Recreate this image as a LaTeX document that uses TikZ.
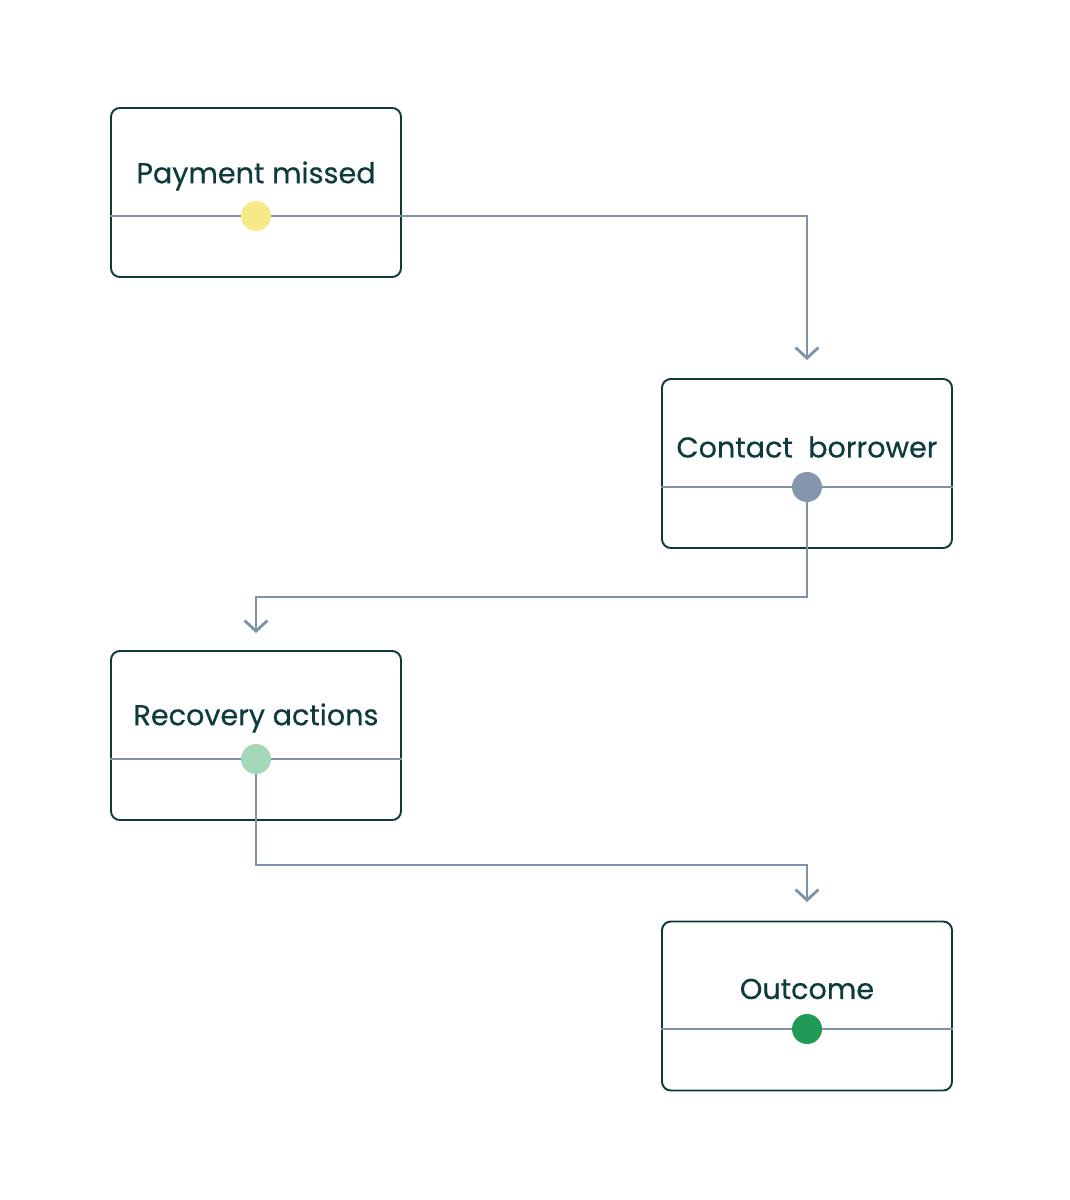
\documentclass[tikz,border=0pt]{standalone}
\usepackage{fontspec}
\setmainfont{Poppins}
\newfontfamily\cardfont{Poppins}[BoldFont={Poppins},BoldFeatures={FakeBold=0.5}]
\usetikzlibrary{arrows.meta,positioning}
\definecolor{ink}{HTML}{0D3B3B}
\definecolor{wire}{HTML}{7F93A8}
\definecolor{dotyellow}{HTML}{F7E98A}
\definecolor{dotgrey}{HTML}{8496AB}
\definecolor{dotmint}{HTML}{A3D9B8}
\definecolor{dotgreen}{HTML}{1F9A57}
\tikzset{>={Straight Barb[length=6pt,width=13pt]}}
\tikzset{
  card/.style={draw=ink,line width=1.1pt,rounded corners=5pt,minimum width=290*0.02cm,minimum height=169*0.02cm},
  title/.style={text=ink,font=\cardfont\bfseries\fontsize{16.3}{19}\selectfont},
  divider/.style={draw=wire,line width=1.6pt},
  flow/.style={draw=wire,line width=1.6pt,->},
  dot/.style={circle,inner sep=0pt,minimum size=30*0.02cm}
}

\begin{document}
\begin{tikzpicture}[x=0.02cm,y=-0.02cm]
\useasboundingbox (0,0) rectangle (1070,1200);
% cards
\node[card] (pay) at (256,192.5) {};
\node[card] (contact) at (807,463.5) {};
\node[card] (recover) at (256,735.5) {};
\node[card] (out) at (807,1006) {};
% titles
\node[title] at (256,176) {Payment missed};
\node[title] at (807,447) {Contact\ \ borrower};
\node[title] at (256,718) {Recovery actions};
\node[title] at (807,989) {Outcome};
% dividers
\draw[divider] (pay.west |- 0,216) -- (pay.east |- 0,216);
\draw[divider] (contact.west |- 0,487) -- (contact.east |- 0,487);
\draw[divider] (recover.west |- 0,759) -- (recover.east |- 0,759);
\draw[divider] (out.west |- 0,1029) -- (out.east |- 0,1029);
% connectors
\coordinate (in2) at (807,360);
\coordinate (in3) at (256,633);
\coordinate (in4) at (807,902);
\draw[flow] (256,216) -- (807,216) -- (in2);
\draw[flow] (807,487) -- (807,597) -- (256,597) -- (in3);
\draw[flow] (256,759) -- (256,865) -- (807,865) -- (in4);
% dots
\node[dot,fill=dotyellow] (d1) at (256,216) {};
\node[dot,fill=dotgrey] (d2) at (807,487) {};
\node[dot,fill=dotmint] (d3) at (256,759) {};
\node[dot,fill=dotgreen] (d4) at (807,1029) {};
\end{tikzpicture}
\end{document}
